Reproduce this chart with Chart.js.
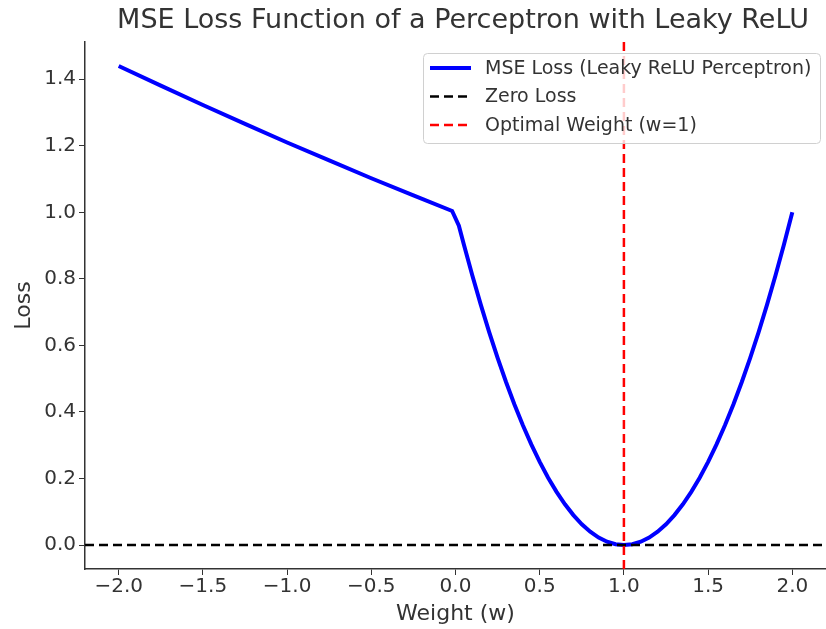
<!DOCTYPE html>
<html>
<head>
<meta charset="utf-8">
<script src="https://cdn.jsdelivr.net/npm/chart.js@4"></script>
<style>
  html, body { margin: 0; padding: 0; background: #fff; }
  #wrap { width: 826px; height: 629px; }
</style>
</head>
<body>
<div id="wrap"><canvas id="chart"></canvas></div>
<script>
// ── Data ────────────────────────────────────────────────────────
const weights = [-2.0, -1.75, -1.5, -1.25, -1.0, -0.75, -0.5, -0.25, -0.02, 0.02,
                 0.05, 0.1, 0.15, 0.2, 0.25, 0.3, 0.35, 0.4, 0.45, 0.5,
                 0.55, 0.6, 0.65, 0.7, 0.75, 0.8, 0.85, 0.9, 0.95, 1.0,
                 1.05, 1.1, 1.15, 1.2, 1.25, 1.3, 1.35, 1.4, 1.45, 1.5,
                 1.55, 1.6, 1.65, 1.7, 1.75, 1.8, 1.85, 1.9, 1.95, 2.0];
const losses  = [1.44, 1.381, 1.3225, 1.266, 1.21, 1.156, 1.1025, 1.051, 1.004, 0.96,
                 0.9025, 0.81, 0.7225, 0.64, 0.5625, 0.49, 0.4225, 0.36, 0.3025, 0.25,
                 0.2025, 0.16, 0.1225, 0.09, 0.0625, 0.04, 0.0225, 0.01, 0.0025, 0.0,
                 0.0025, 0.01, 0.0225, 0.04, 0.0625, 0.09, 0.1225, 0.16, 0.2025, 0.25,
                 0.3025, 0.36, 0.4225, 0.49, 0.5625, 0.64, 0.7225, 0.81, 0.9025, 1.0];
const xTicks  = [-2.0, -1.5, -1.0, -0.5, 0.0, 0.5, 1.0, 1.5, 2.0];
const yTicks  = [0.0, 0.2, 0.4, 0.6, 0.8, 1.0, 1.2, 1.4];
const xLimits = [-2.2, 2.2];
const yLimits = [-0.072, 1.512];
const optimalW = 1;

const titleText = 'MSE Loss Function of a Perceptron with Leaky ReLU';
const textColor = '#333';
const fontFam   = '"DejaVu Sans", sans-serif';

// ── Title + legend drawn by hand, matplotlib style ──────────────
const boxLegend = {
    id: 'boxLegend',
    afterDraw(chart) {
        const ctx = chart.ctx;
        ctx.save();
        ctx.font = '27px ' + fontFam;
        ctx.fillStyle = textColor;
        ctx.textAlign = 'center';
        ctx.textBaseline = 'middle';
        ctx.fillText(titleText, 463, 21);

        const x0 = 423, y0 = 53, w = 397, h = 90;
        ctx.beginPath();
        ctx.roundRect(x0 + 0.5, y0 + 0.5, w, h, 4);
        ctx.fillStyle = 'rgba(255,255,255,0.8)';
        ctx.fill();
        ctx.strokeStyle = '#d0d0d0';
        ctx.lineWidth = 1;
        ctx.stroke();
        ctx.font = '19px ' + fontFam;
        ctx.textAlign = 'left';
        chart.data.datasets.forEach((ds, i) => {
            const yy = y0 + 15 + i * 28.5;
            ctx.beginPath();
            ctx.setLineDash(ds.borderDash || []);
            ctx.strokeStyle = ds.borderColor;
            ctx.lineWidth = ds.borderWidth;
            ctx.moveTo(430, yy);
            ctx.lineTo(471, yy);
            ctx.stroke();
            ctx.setLineDash([]);
            ctx.fillStyle = textColor;
            ctx.fillText(ds.label, 485, yy + 1);
        });
        ctx.restore();
    }
};

new Chart(document.getElementById('chart'), {
    type: 'line',
    data: {
        datasets: [
            {
                label: 'MSE Loss (Leaky ReLU Perceptron)',
                data: weights.map((w, i) => ({ x: w, y: losses[i] })),
                borderColor: '#0000ff',
                borderWidth: 4,
                pointRadius: 0,
                tension: 0,
                order: 3,
            },
            {
                label: 'Zero Loss',
                data: [{ x: xLimits[0], y: 0 }, { x: xLimits[1], y: 0 }],
                borderColor: '#000',
                borderWidth: 2.5,
                borderDash: [9, 5],
                pointRadius: 0,
                order: 2,
            },
            {
                label: 'Optimal Weight (w=1)',
                data: [{ x: optimalW, y: yLimits[0] }, { x: optimalW, y: yLimits[1] }],
                borderColor: '#ff0000',
                borderWidth: 2.5,
                borderDash: [9, 5],
                pointRadius: 0,
                order: 1,
            }
        ]
    },
    options: {
        responsive: true,
        maintainAspectRatio: false,
        animation: false,
        layout: { padding: { top: 42, right: 0, left: 0, bottom: 0 } },
        plugins: {
            legend: { display: false },
            tooltip: { enabled: false },
            title: { display: false }
        },
        scales: {
            x: {
                type: 'linear',
                min: xLimits[0], max: xLimits[1],
                afterBuildTicks: s => { s.ticks = xTicks.map(v => ({ value: v })); },
                afterFit: s => { s.height = 60; },
                grid: { drawOnChartArea: false, drawTicks: true, tickLength: 6, color: textColor },
                border: { display: true, color: textColor, width: 1.5 },
                ticks: {
                    color: textColor, font: { family: fontFam, size: 20 }, padding: 0,
                    maxRotation: 0,
                    callback: v => (v < 0 ? '\u2212' : '') + Math.abs(v).toFixed(1)
                },
                title: { display: true, text: 'Weight (w)', color: textColor,
                         font: { family: fontFam, size: 22 }, padding: { top: 0, bottom: 2 } }
            },
            y: {
                type: 'linear',
                min: yLimits[0], max: yLimits[1],
                afterBuildTicks: s => { s.ticks = yTicks.map(v => ({ value: v })); },
                afterFit: s => { s.width = 85; },
                grid: { drawOnChartArea: false, drawTicks: true, tickLength: 6, color: textColor },
                border: { display: true, color: textColor, width: 1.5 },
                ticks: {
                    color: textColor, font: { family: fontFam, size: 20 }, padding: 3,
                    callback: v => v.toFixed(1)
                },
                title: { display: true, text: 'Loss', color: textColor,
                         font: { family: fontFam, size: 22 }, padding: { top: 11, bottom: 0 } }
            }
        }
    },
    plugins: [boxLegend]
});
</script>
</body>
</html>
